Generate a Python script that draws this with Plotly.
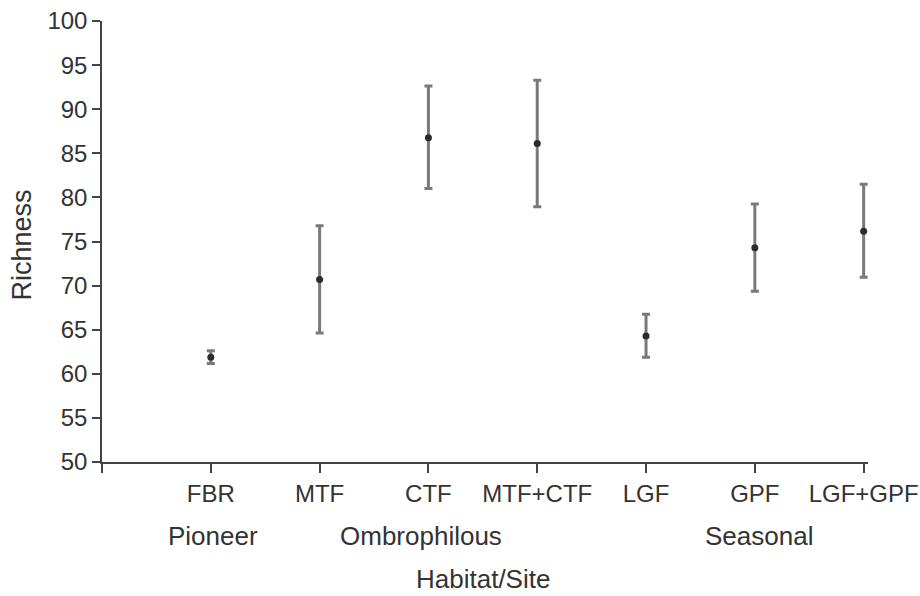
import plotly.graph_objects as go

categories = ["FBR", "MTF", "CTF", "MTF+CTF", "LGF", "GPF", "LGF+GPF"]
richness_mean = [61.88, 70.7, 86.76, 86.1, 64.29, 74.3, 76.15]
richness_upper = [62.6, 76.78, 92.63, 93.28, 66.74, 79.25, 81.48]
richness_lower = [61.16, 64.64, 81.02, 78.95, 61.87, 69.35, 70.94]
groups = ["Pioneer", "Ombrophilous", "Seasonal"]
group_center_category = ["FBR", "CTF", "GPF"]
y_ticks = [50, 55, 60, 65, 70, 75, 80, 85, 90, 95, 100]

FONT = "Liberation Sans, Arial, sans-serif"
TXT = "#333333"
AX = "#444444"

xpos = list(range(1, len(categories) + 1))
err_plus = [u - m for u, m in zip(richness_upper, richness_mean)]
err_minus = [m - l for m, l in zip(richness_mean, richness_lower)]

# small horizontal nudges of the group labels (layout only)
group_label_nudge = [0.02, -0.07, 0.04]

fig = go.Figure()
fig.add_trace(go.Scatter(
    x=xpos, y=richness_mean, mode="markers",
    marker=dict(color="#2b2b2b", size=7),
    error_y=dict(type="data", symmetric=False, array=err_plus, arrayminus=err_minus,
                 color="#7a7a7a", thickness=3, width=4),
    cliponaxis=False, showlegend=False, hoverinfo="skip",
))

annotations = []
for g, c, dx in zip(groups, group_center_category, group_label_nudge):
    annotations.append(dict(text=g, x=categories.index(c) + 1 + dx, xref="x", y=-0.168, yref="paper",
                            showarrow=False, xanchor="center", yanchor="middle",
                            font=dict(family=FONT, size=26, color=TXT)))
annotations.append(dict(text="Habitat/Site", x=0.498, xref="paper", y=-0.265, yref="paper",
                        showarrow=False, xanchor="center", yanchor="middle",
                        font=dict(family=FONT, size=26, color=TXT)))
annotations.append(dict(text="Richness", x=-0.105, xref="paper", y=0.492, yref="paper",
                        showarrow=False, xanchor="center", yanchor="middle", textangle=-90,
                        font=dict(family=FONT, size=27, color=TXT)))

fig.update_layout(
    template="none",
    width=920, height=596,
    margin=dict(l=102, r=52, t=21, b=134),
    paper_bgcolor="white", plot_bgcolor="white",
    font=dict(family=FONT, size=24, color=TXT),
    annotations=annotations,
    xaxis=dict(range=[0, 7.04], tickvals=[0] + xpos, ticktext=[""] + categories,
               automargin=False,
               showline=True, linecolor=AX, linewidth=1.5, ticks="outside", ticklen=9,
               tickcolor=AX, tickwidth=1.5, showgrid=False, zeroline=False,
               tickfont=dict(family=FONT, size=24, color=TXT)),
    yaxis=dict(range=[50, 100], tickvals=y_ticks, automargin=False,
               showline=True, linecolor=AX, linewidth=1.5, ticks="outside", ticklen=8,
               tickcolor=AX, tickwidth=1.5, showgrid=False, zeroline=False,
               tickfont=dict(family=FONT, size=24, color=TXT)),
)

fig.write_html("out.html", config={"displayModeBar": False},
               post_script="document.body.style.margin='0';document.body.style.overflow='hidden';")
